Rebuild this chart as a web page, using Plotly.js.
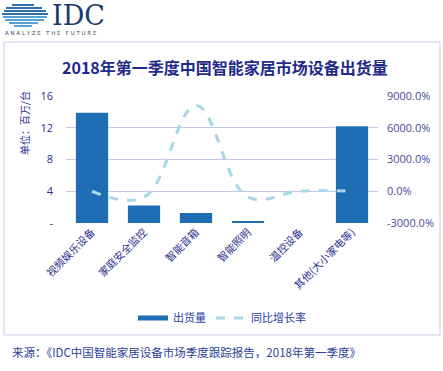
<!DOCTYPE html>
<html><head><meta charset="utf-8">
<script src="https://cdn.plot.ly/plotly-3.0.1.min.js"></script>
<style>html,body{margin:0;padding:0;background:#fff;}#chart{width:443px;height:371px;}</style>
</head><body><div id="chart"></div>
<script>
const categories = ["视频娱乐设备","家庭安全监控","智能音箱","智能照明","温控设备","其他(大小家电等)"];
const shipments = [13.9, 2.2, 1.25, 0.25, 0, 12.2];
const growth = [0, -550, 8100, -550, 20, 0];
const leftTicks = [0, 4, 8, 12, 16];
const leftTickText = ["-", "4", "8", "12", "16"];
const rightTicks = [-3000, 0, 3000, 6000, 9000];
const rightTickText = ["-3000.0%", "0.0%", "3000.0%", "6000.0%", "9000.0%"];

const L = 66, R = 378, T = 96, B = 223;
const px = x => (x - L) / (R - L);
const py = y => (B - y) / (B - T);
const cjk = '"Noto Sans CJK SC", sans-serif';
const navy = '#2b2f8f';
const barColor = '#1f6db5';

const shapes = [];
shapes.push({type:'rect', xref:'paper', yref:'paper', x0:px(4), x1:px(440), y0:py(335), y1:py(42),
  line:{color:'#c9c9e6', width:1}, fillcolor:'rgba(0,0,0,0)', layer:'below'});
const stripes = [[5,12,32],[8,6,40],[11,4,44],[14,2,46],[17,3,45],[20,5,42],[23,9,36],[26,14,30]];
stripes.forEach(s => {
  shapes.push({type:'line', xref:'paper', yref:'paper', x0:px(s[1]), x1:px(s[2]+2), y0:py(s[0]), y1:py(s[0]),
    line:{color: s[0] < 15 ? '#2e6fb0' : '#5aa0d0', width:2}});
});

const annotations = [
  {text:'IDC', xref:'paper', yref:'paper', x:px(50), y:py(15), xanchor:'left', yanchor:'middle', showarrow:false,
    font:{family:'"DejaVu Serif", "Liberation Serif", serif', size:27, color:'#1b3a6b'}},
  {text:'A N A L Y Z E   T H E   F U T U R E', xref:'paper', yref:'paper', x:px(3), y:py(33), xanchor:'left', yanchor:'middle', showarrow:false,
    font:{family:'"DejaVu Sans", sans-serif', size:5.5, color:'#3a4a6a'}},
  {text:'2018年第一季度中国智能家居市场设备出货量', xref:'paper', yref:'paper', x:px(225), y:py(67), xanchor:'center', yanchor:'middle', showarrow:false,
    font:{family:cjk, size:16, color:'#1f2a8a', weight:'bold'}},
  {text:'单位：百万/台', xref:'paper', yref:'paper', x:px(24), y:py(123), xanchor:'center', yanchor:'middle', showarrow:false, textangle:-90,
    font:{family:cjk, size:10, color:navy}},
  {text:'来源：《IDC中国智能家居设备市场季度跟踪报告，2018年第一季度》', xref:'paper', yref:'paper', x:px(10), y:py(352), xanchor:'left', yanchor:'middle', showarrow:false,
    font:{family:cjk, size:11.5, color:'#2a3f9a'}}
];

const data = [
  {type:'bar', name:'出货量', x:categories, y:shipments, marker:{color:barColor}, width:0.62, yaxis:'y', showlegend:false},
  {type:'scatter', mode:'lines', name:'出货量', x:[categories[0]], y:[null], yaxis:'y',
    line:{color:barColor, width:5}, hoverinfo:'skip'},
  {type:'scatter', mode:'lines', name:'同比增长率', x:categories, y:growth, yaxis:'y2',
    line:{color:'#a9d6e8', width:3, dash:'dash', shape:'spline', smoothing:1.1}}
];

const layout = {
  width:443, height:371,
  margin:{l:L, r:443-R, t:T, b:371-B},
  paper_bgcolor:'#fff', plot_bgcolor:'#fff',
  showlegend:true,
  legend:{orientation:'h', x:0.5, xanchor:'center', y:py(318), yanchor:'middle',
    font:{family:cjk, size:11, color:'#2b3fa0'}, traceorder:'normal'},
  xaxis:{tickangle:-45, tickfont:{family:cjk, size:10.5, color:navy}, showgrid:false, showline:false, ticks:'', zeroline:false},
  yaxis:{range:[0,16], tickvals:leftTicks, ticktext:leftTickText, gridcolor:'#c5c5e3', gridwidth:1, zeroline:false,
    tickfont:{family:'"Open Sans", sans-serif', size:11, color:navy}, ticklabelstandoff:12},
  yaxis2:{range:[-3000,9000], overlaying:'y', side:'right', tickvals:rightTicks, ticktext:rightTickText, showgrid:false, zeroline:false,
    tickfont:{family:'"Open Sans", sans-serif', size:11, color:'#4a4a9a'}, ticklabelstandoff:8},
  shapes:shapes, annotations:annotations, bargap:0.38
};
Plotly.newPlot('chart', data, layout, {displayModeBar:false, staticPlot:true});
</script></body></html>
